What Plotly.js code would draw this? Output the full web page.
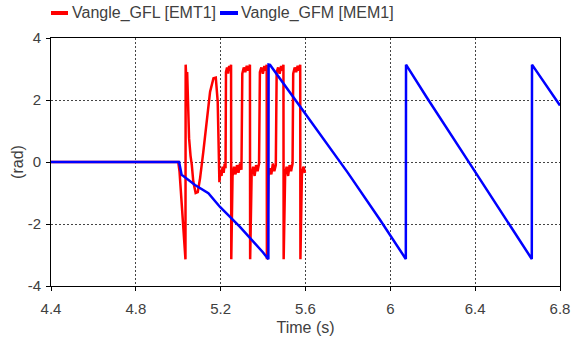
<!DOCTYPE html>
<html>
<head>
<meta charset="utf-8">
<script src="https://cdn.plot.ly/plotly-3.0.1.min.js"></script>
<style>html,body{margin:0;padding:0;background:#fff;}#chart{width:579px;height:341px;}</style>
</head>
<body>
<div id="chart"></div>
<script>
// Series names
const seriesNames = ["Vangle_GFL [EMT1]", "Vangle_GFM [MEM1]"];
const seriesColors = ["#ff0000", "#0000ff"];

// Vangle_GFL [EMT1] (red)
const gflTime = [4.400, 5.000, 5.006, 5.012, 5.016, 5.024, 5.030, 5.034, 5.035, 5.039, 5.042, 5.045, 5.051, 5.058, 5.064, 5.071, 5.082, 5.092, 5.103, 5.118, 5.134, 5.150, 5.166, 5.177, 5.186, 5.194,
  5.199, 5.204, 5.209, 5.214, 5.219, 5.223, 5.225, 5.230, 5.235, 5.240, 5.245, 5.249, 5.250,
  5.256, 5.263, 5.270, 5.277, 5.284, 5.291, 5.298, 5.302, 5.309, 5.316, 5.323, 5.330, 5.338, 5.339,
  5.346, 5.353, 5.360, 5.367, 5.374, 5.381, 5.385, 5.392, 5.399, 5.406, 5.412, 5.417, 5.418,
  5.425, 5.432, 5.439, 5.446, 5.453, 5.460, 5.464, 5.471, 5.478, 5.485, 5.491, 5.496, 5.497,
  5.504, 5.511, 5.518, 5.525, 5.532, 5.539, 5.542, 5.549, 5.556, 5.563, 5.569, 5.575, 5.576,
  5.583, 5.590, 5.598];
const gflAngle = [0, 0, -0.3, -0.9, -1.4, -2.1, -2.8, -3.14, 3.14, 2.5, 2.9, 2.0, 0.77, 0.2, -0.1, -0.64, -1.00, -0.97, -0.52, 0.32, 1.30, 2.26, 2.70, 2.72, 1.95, -0.65,
  -0.25, -0.45, -0.15, -0.35, -0.05, -0.2, 2.90, 3.05, 2.85, 3.10, 2.95, 3.14, -3.14,
  -0.45, -0.15, -0.40, -0.10, -0.35, -0.05, -0.25, 2.85, 3.05, 2.90, 3.10, 2.95, 3.14, -3.14,
  -0.40, -0.15, -0.45, -0.10, -0.30, -0.05, 2.90, 3.05, 2.85, 3.10, 2.95, 3.14, -3.14,
  -0.45, -0.20, -0.40, -0.05, -0.30, -0.10, 2.90, 3.05, 2.85, 3.10, 2.95, 3.14, -3.14,
  -0.40, -0.15, -0.45, -0.10, -0.30, -0.05, 2.85, 3.05, 2.90, 3.10, 2.95, 3.14, -3.14,
  -0.40, -0.15, -0.35];

// Vangle_GFM [MEM1] (blue)
const gfmTime = [4.400, 5.000, 5.004, 5.016, 5.024, 5.079, 5.142, 5.197, 5.291, 5.400, 5.425, 5.426, 5.433, 5.600, 5.669, 5.800, 5.952, 6.073, 6.074, 6.172, 6.368, 6.557, 6.667, 6.668, 6.800];
const gfmAngle = [0, 0, 0, -0.42, -0.45, -0.74, -1.01, -1.45, -2.09, -2.92, -3.14, 3.14, 3.13, 1.55, 0.90, -0.35, -1.87, -3.13, 3.14, 2.08, 0.02, -1.97, -3.13, 3.14, 1.82];

// Axis ticks
const xTicks = [4.4, 4.8, 5.2, 5.6, 6, 6.4, 6.8];
const xTickLabels = ["4.4", "4.8", "5.2", "5.6", "6", "6.4", "6.8"];
const yTicks = [-4, -2, 0, 2, 4];
const yTickLabels = ["-4", "-2", "0", "2", "4"];

const fontFamily = "Liberation Sans, Arial, sans-serif";
const textColor = "#404040";

const traces = [
  {x: gflTime, y: gflAngle, type: "scatter", mode: "lines", name: seriesNames[0],
   line: {color: seriesColors[0], width: 2.5}, showlegend: false},
  {x: gfmTime, y: gfmAngle, type: "scatter", mode: "lines", name: seriesNames[1],
   line: {color: seriesColors[1], width: 2.5}, showlegend: false}
];

// plot area in pixels: left 51, right 560, top 38, bottom 286
const L = 51, R = 560, T = 38, B = 286;
const px2x = p => (p - L) / (R - L);
const py2y = p => (B - p) / (B - T);
const legendY = py2y(13);

const layout = {
  width: 579, height: 341,
  margin: {l: L, r: 579 - R, t: T, b: 341 - B, pad: 0},
  paper_bgcolor: "#ffffff", plot_bgcolor: "#ffffff",
  font: {family: fontFamily, size: 15, color: textColor},
  showlegend: false,
  xaxis: {
    range: [4.4, 6.8], tickvals: xTicks, ticktext: xTickLabels,
    showline: true, linecolor: "#000", linewidth: 1, mirror: true,
    ticks: "outside", ticklen: 4, tickcolor: "#000",
    showgrid: true, gridcolor: "#444", gridwidth: 1, griddash: "2px,2px",
    zeroline: false, ticklabelstandoff: 5,
    tickfont: {family: fontFamily, size: 15, color: textColor},
    title: {text: "Time (s)", font: {family: fontFamily, size: 16, color: textColor}, standoff: 5}
  },
  yaxis: {
    range: [-4, 4], tickvals: yTicks, ticktext: yTickLabels,
    showline: true, linecolor: "#000", linewidth: 1, mirror: true,
    ticks: "outside", ticklen: 4, tickcolor: "#000",
    showgrid: true, gridcolor: "#444", gridwidth: 1, griddash: "2px,2px",
    zeroline: false, ticklabelstandoff: 2,
    tickfont: {family: fontFamily, size: 15, color: textColor},
    title: {text: "(rad)", font: {family: fontFamily, size: 16, color: textColor}, standoff: 0}
  },
  shapes: [
    {type: "line", xref: "paper", yref: "paper", x0: px2x(51), x1: px2x(68), y0: legendY, y1: legendY,
     line: {color: seriesColors[0], width: 4}},
    {type: "line", xref: "paper", yref: "paper", x0: px2x(220), x1: px2x(238), y0: legendY, y1: legendY,
     line: {color: seriesColors[1], width: 4}}
  ],
  annotations: [
    {xref: "paper", yref: "paper", x: px2x(70), y: legendY, xanchor: "left", yanchor: "middle",
     text: seriesNames[0], showarrow: false, font: {family: fontFamily, size: 16, color: textColor}},
    {xref: "paper", yref: "paper", x: px2x(239), y: legendY, xanchor: "left", yanchor: "middle",
     text: seriesNames[1], showarrow: false, font: {family: fontFamily, size: 16, color: textColor}}
  ]
};

Plotly.newPlot("chart", traces, layout, {displayModeBar: false, staticPlot: true});
</script>
</body>
</html>
